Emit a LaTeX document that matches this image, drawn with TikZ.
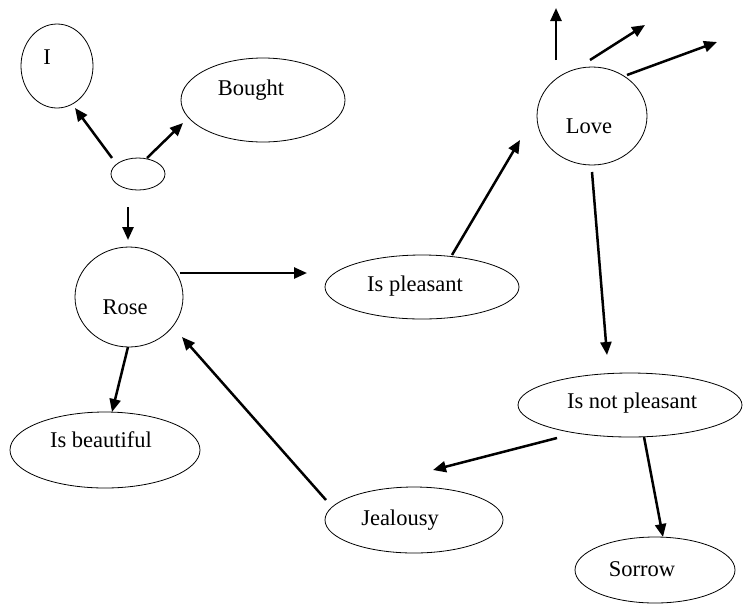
\documentclass[tikz,border=0pt]{standalone}
\usepackage{fontspec}
\setmainfont{Liberation Serif}
\usetikzlibrary{shapes.geometric,arrows.meta,calc}
\begin{document}
\begin{tikzpicture}[x=1pt,y=-1pt,
  oval/.style={ellipse,draw,line width=0.8pt,inner sep=0pt},
  txt/.style={font=\fontsize{22.5}{26}\selectfont},
  arr/.style={line width=2.5pt,-{Triangle[length=13pt,width=11pt]}}]
\useasboundingbox (0,0) rectangle (743,603);
\node[oval,minimum width=72pt,minimum height=84pt,label={[txt,xshift=-10pt,yshift=9pt]center:I}] (I) at (57,66) {};
\node[oval,minimum width=164pt,minimum height=84pt,label={[txt,xshift=-12pt,yshift=10pt]center:Bought}] (bought) at (263,100) {};
\node[oval,minimum width=54pt,minimum height=32pt] (small) at (138,174) {};
\node[oval,minimum width=108pt,minimum height=100pt,label={[txt,xshift=-4pt,yshift=-10pt]center:Rose}] (rose) at (129,297) {};
\node[oval,minimum width=194pt,minimum height=64pt,label={[txt,xshift=-7pt,yshift=1pt]center:Is pleasant}] (ispl) at (422,287) {};
\node[oval,minimum width=110pt,minimum height=98pt,label={[txt,xshift=-3pt,yshift=-10pt]center:Love}] (love) at (592,116) {};
\node[oval,minimum width=224pt,minimum height=64pt,label={[txt,xshift=2pt,yshift=2pt]center:Is not pleasant}] (isnot) at (630,405) {};
\node[oval,minimum width=178pt,minimum height=66pt,label={[txt,xshift=-14pt]center:Jealousy}] (jeal) at (414,520) {};
\node[oval,minimum width=160pt,minimum height=66pt,label={[txt,xshift=-13pt,yshift=1pt]center:Sorrow}] (sorrow) at (655,570) {};
\node[oval,minimum width=190pt,minimum height=76pt,label={[txt,xshift=-4pt,yshift=10pt]center:Is beautiful}] (beaut) at (105,450) {};
\coordinate (up1) at (556,8);
\coordinate (up2) at (645,25);
\coordinate (up3) at (717,42);
\draw[arr] ($(small)+(-26,-16)$) -- ($(I)+(18,42)$);
\draw[arr] ($(small)+(9,-16)$) -- ($(bought)+(-80,23)$);
\draw[arr] ($(small)+(-10,33)$) -- ($(rose)+(-1,-57)$);
\draw[arr] ($(rose)+(51,-24)$) -- ($(ispl)+(-115,-14)$);
\draw[arr] ($(ispl)+(30,-32)$) -- ($(love)+(-72,24)$);
\draw[arr] ($(love)+(-36,-56)$) -- (up1);
\draw[arr] ($(love)+(-2,-56)$) -- (up2);
\draw[arr] ($(love)+(35,-41)$) -- (up3);
\draw[arr] ($(love)+(0,56)$) -- ($(isnot)+(-23,-50)$);
\draw[arr] ($(isnot)+(-73,33)$) -- ($(jeal)+(19,-50)$);
\draw[arr] ($(jeal)+(-88,-20)$) -- ($(rose)+(53,40)$);
\draw[arr] ($(isnot)+(14,32)$) -- ($(sorrow)+(8,-33)$);
\draw[arr] ($(rose)+(-1,50)$) -- ($(beaut)+(7,-38)$);
\end{tikzpicture}
\end{document}
